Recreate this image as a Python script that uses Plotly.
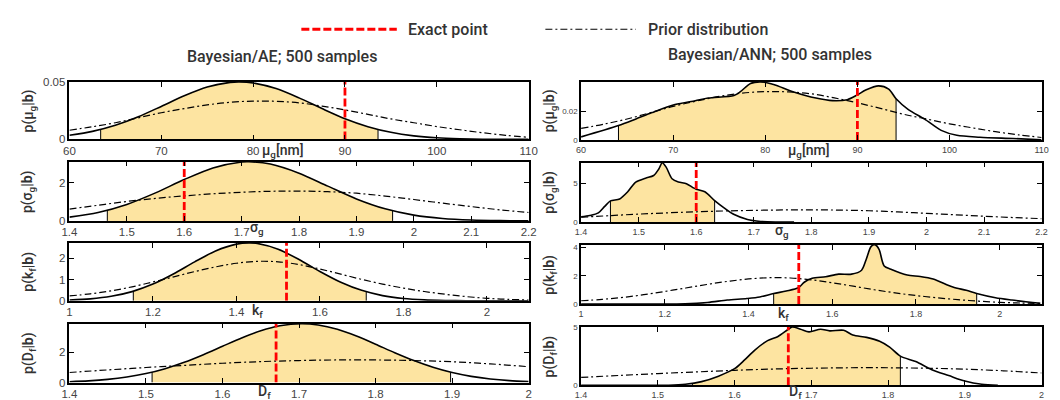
import numpy as np
import plotly.graph_objects as go

W, H = 1060, 400

# ---------------- data ----------------
# mu_g
ae_mu_x = [60, 62.5, 65, 67.5, 70, 72.5, 75, 77.5, 78.5, 80, 82.5, 85, 87.5, 90, 92.5, 95, 97.5, 100, 102.5, 105, 107.5, 110]
ae_mu_post = [0.0036, 0.0070, 0.0123, 0.0197, 0.0287, 0.0379, 0.0455, 0.0496, 0.0500, 0.0491, 0.0442, 0.0361, 0.0268, 0.0180,
              0.0111, 0.0062, 0.0031, 0.0014, 0.0006, 0.0002, 0.0001, 0.0]
ann_mu_x = [60, 64.06, 65.9, 67.7, 70.2, 72.4, 73.8, 76.6, 77.3, 78.4, 79.5, 80.9, 83.0, 85.5, 87.3, 88.9, 90.0, 90.9, 92.3,
            93.4, 94.2, 95.5, 97.3, 99.1, 100.8, 103.3, 106.9, 110]
ann_mu_post = [0.0022, 0.0100, 0.0144, 0.0189, 0.0244, 0.0271, 0.0289, 0.0307, 0.0333, 0.0389, 0.0400, 0.0382, 0.0333, 0.0289,
               0.0271, 0.0278, 0.0311, 0.0344, 0.0373, 0.0351, 0.0284, 0.0211, 0.0144, 0.0067, 0.0033, 0.0020, 0.0011, 0.0002]
mu_prior_x = [60, 62.5, 65, 67.5, 70, 72.5, 75, 77.5, 80, 82.5, 85, 87.5, 90, 92.5, 95, 97.5, 100, 102.5, 105, 107.5, 110]
mu_prior = [0.0080, 0.0110, 0.0145, 0.0188, 0.0232, 0.0268, 0.0300, 0.0323, 0.0333, 0.0331, 0.0318, 0.0290, 0.0256, 0.0218,
            0.0178, 0.0145, 0.0112, 0.0084, 0.0058, 0.0036, 0.0018]

# sigma_g
ae_sig_x = [1.40, 1.45, 1.50, 1.55, 1.60, 1.65, 1.70, 1.7127, 1.75, 1.80, 1.85, 1.90, 1.95, 2.00, 2.05, 2.10, 2.15, 2.20]
ae_sig_post = [0.196, 0.442, 0.864, 1.469, 2.166, 2.775, 3.086, 3.10, 2.98, 2.50, 1.821, 1.152, 0.633, 0.302, 0.125, 0.045, 0.014, 0.004]
ann_sig_x = [1.400, 1.415, 1.430, 1.441, 1.451, 1.467, 1.481, 1.495, 1.512, 1.526, 1.535, 1.541, 1.548, 1.558, 1.569, 1.583,
             1.595, 1.600, 1.615, 1.632, 1.649, 1.666, 1.689, 1.712, 1.740, 1.770]
ann_sig_post = [0.67, 0.83, 1.17, 2.00, 2.71, 2.96, 3.88, 5.12, 5.62, 5.96, 6.79, 7.60, 7.00, 5.54, 5.12, 4.92,
                4.38, 4.20, 3.88, 2.75, 1.79, 0.96, 0.33, 0.08, 0.01, 0.0]
sig_prior_x = [1.40, 1.45, 1.50, 1.55, 1.60, 1.65, 1.70, 1.75, 1.80, 1.85, 1.90, 1.95, 2.00, 2.05, 2.10, 2.15, 2.20]
sig_prior = [0.62, 0.82, 1.02, 1.18, 1.31, 1.42, 1.50, 1.55, 1.56, 1.53, 1.45, 1.30, 1.12, 0.93, 0.75, 0.58, 0.44]

# k_f
ae_kf_x = [1.00, 1.05, 1.10, 1.15, 1.20, 1.25, 1.30, 1.35, 1.40, 1.43, 1.45, 1.50, 1.55, 1.60, 1.65, 1.70, 1.75, 1.80,
           1.85, 1.90, 1.95, 2.00, 2.05, 2.10]
ae_kf_post = [0.036, 0.092, 0.212, 0.434, 0.789, 1.277, 1.836, 2.350, 2.673, 2.730, 2.704, 2.433, 1.947, 1.386, 0.877, 0.494,
              0.247, 0.110, 0.044, 0.016, 0.005, 0.0015, 0.0, 0.0]
ann_kf_x = [1.000, 1.248, 1.302, 1.349, 1.396, 1.427, 1.460, 1.490, 1.519, 1.533, 1.552, 1.584, 1.615, 1.646, 1.670, 1.681,
            1.693, 1.703, 1.712, 1.724, 1.740, 1.779, 1.810, 1.841, 1.888, 1.920, 1.945, 1.990, 2.029, 2.097]
ann_kf_post = [0.0, 0.02, 0.11, 0.28, 0.39, 0.50, 0.74, 0.92, 1.15, 1.54, 1.82, 1.93, 2.11, 2.11, 2.39, 3.15,
               4.07, 4.18, 3.84, 2.69, 2.46, 2.05, 1.95, 1.77, 1.20, 0.97, 0.74, 0.44, 0.28, 0.05]
kf_prior_x = [1.00, 1.05, 1.10, 1.15, 1.20, 1.25, 1.30, 1.35, 1.40, 1.45, 1.50, 1.55, 1.60, 1.65, 1.70, 1.75, 1.80, 1.85,
              1.90, 1.95, 2.00, 2.05, 2.10]
kf_prior = [0.23, 0.33, 0.47, 0.66, 0.89, 1.13, 1.38, 1.60, 1.77, 1.86, 1.84, 1.71, 1.50, 1.26, 1.01, 0.79, 0.60, 0.44,
            0.31, 0.20, 0.12, 0.07, 0.04]

# D_f
ae_df_x = [1.400, 1.425, 1.450, 1.475, 1.500, 1.525, 1.550, 1.575, 1.600, 1.625, 1.650, 1.675, 1.703, 1.725, 1.750, 1.775,
           1.800, 1.825, 1.850, 1.875, 1.900, 1.925, 1.950, 1.975, 2.000]
ae_df_post = [0.060, 0.116, 0.212, 0.366, 0.597, 0.922, 1.344, 1.850, 2.406, 2.957, 3.432, 3.763, 3.900, 3.815, 3.527, 3.080,
              2.541, 1.980, 1.459, 1.014, 0.667, 0.414, 0.243, 0.134, 0.070]
ann_df_x = [1.400, 1.514, 1.536, 1.557, 1.579, 1.600, 1.613, 1.626, 1.643, 1.656, 1.670, 1.675, 1.686, 1.697, 1.712, 1.724,
            1.742, 1.754, 1.772, 1.789, 1.802, 1.816, 1.836, 1.857, 1.879, 1.900, 1.922, 1.943]
ann_df_post = [0.0, 0.0, 0.08, 0.31, 0.78, 1.42, 2.17, 3.00, 3.83, 4.17, 4.81, 5.00, 4.81, 4.58, 4.81, 4.67,
               4.72, 4.31, 4.11, 3.78, 3.28, 2.50, 2.03, 1.33, 0.83, 0.36, 0.08, 0.0]
df_prior_x = [1.40, 1.45, 1.50, 1.55, 1.60, 1.65, 1.70, 1.75, 1.80, 1.85, 1.90, 1.95, 2.00]
df_prior = [0.67, 0.84, 1.00, 1.14, 1.28, 1.39, 1.46, 1.50, 1.50, 1.46, 1.38, 1.24, 1.05]

# exact points and credible intervals
exact_points = [90, 1.6, 1.52, 1.67]
ae_intervals = [(63.4, 93.6), (1.466, 1.963), (1.153, 1.711), (1.508, 1.898)]
ann_intervals = [(64.06, 94.2), (1.451, 1.632), (1.46, 1.945), (1.545, 1.816)]

x_ranges = [(60, 110), (1.4, 2.2), (1.0, 2.1), (1.4, 2.0)]
x_ticks = [[60, 70, 80, 90, 100, 110],
           [1.4, 1.5, 1.6, 1.7, 1.8, 1.9, 2.0, 2.1, 2.2],
           [1.0, 1.2, 1.4, 1.6, 1.8, 2.0],
           [1.4, 1.5, 1.6, 1.7, 1.8, 1.9, 2.0]]
ae_ymax = [0.05, 3.1, 2.73, 3.9]
ann_ymax = [0.04, 7.6, 4.18, 5.0]
ae_yticks = [[0, 0.05], [0, 2], [0, 1, 2], [0, 2]]
ann_yticks = [[0, 0.02], [0, 5], [0, 2, 4], [0, 5]]

y_labels = ["p(μ<sub>g</sub>|<b>b</b>)", "p(σ<sub>g</sub>|<b>b</b>)", "p(k<sub>f</sub>|<b>b</b>)", "p(D<sub>f</sub>|<b>b</b>)"]
x_labels = ["μ<sub>g</sub>[nm]", "σ<sub>g</sub>", "k<sub>f</sub>", "D<sub>f</sub>"]
titles = ["Bayesian/AE; 500 samples", "Bayesian/ANN; 500 samples"]
legend_names = ["Exact point", "Prior distribution"]

posts = [(ae_mu_x, ae_mu_post), (ae_sig_x, ae_sig_post), (ae_kf_x, ae_kf_post), (ae_df_x, ae_df_post),
         (ann_mu_x, ann_mu_post), (ann_sig_x, ann_sig_post), (ann_kf_x, ann_kf_post), (ann_df_x, ann_df_post)]
priors = [(mu_prior_x, mu_prior), (sig_prior_x, sig_prior), (kf_prior_x, kf_prior), (df_prior_x, df_prior)]

# ---------------- layout geometry (pixels) ----------------
col_x = [(54.3, 521.0), (574.3, 1042.3)]
row_y = [[(70, 129.3), (152.3, 213.3), (236, 295.7), (319.3, 380)],
         [(70, 130), (153.3, 214.5), (238, 299), (322.7, 382.7)]]
xlab_pos = [[(271, 141), (245, 221), (245, 306), (253, 390)],
            [(805, 141), (778, 224), (780, 309), (792, 390)]]
ylab_x = [13, 543]
title_pos = [(270, 44), (766, 42)]

FILL = "#FDE4A1"
TXT = "#333333"
FONT = "Roboto, Liberation Sans, sans-serif"
TICKFONT = "Liberation Sans, Arial, sans-serif"

fig = go.Figure()
layout = dict(width=W, height=H, margin=dict(l=0, r=0, t=0, b=0), plot_bgcolor="white",
              paper_bgcolor="white", showlegend=False)
annotations = []
shapes = []

def px2x(p):
    return p / W

def px2y(p):
    return 1 - p / H

for i in range(8):
    col, row = divmod(i, 4)
    sfx = "" if i == 0 else str(i + 1)
    xa, ya = "x" + sfx, "y" + sfx
    ymax = (ae_ymax if col == 0 else ann_ymax)[row]
    yt = (ae_yticks if col == 0 else ann_yticks)[row]
    lo, hi = (ae_intervals if col == 0 else ann_intervals)[row]
    px_, py_ = posts[i]
    prx, pry = priors[row]
    px_a = np.array(px_, float)
    py_a = np.array(py_, float)

    # credible interval fill
    inside = (px_a > lo) & (px_a < hi)
    ylo, yhi = float(np.interp(lo, px_a, py_a)), float(np.interp(hi, px_a, py_a))
    fx = [lo] + list(px_a[inside]) + [hi]
    fy = [ylo] + list(py_a[inside]) + [yhi]
    fig.add_trace(go.Scatter(x=fx, y=fy, mode="lines", fill="tozeroy", fillcolor=FILL,
                             line=dict(width=0, shape="spline", smoothing=0.8), xaxis=xa, yaxis=ya, hoverinfo="skip"))
    fig.add_trace(go.Scatter(x=[lo, lo, None, hi, hi], y=[0, ylo, None, 0, yhi], mode="lines",
                             line=dict(color="black", width=1), xaxis=xa, yaxis=ya, hoverinfo="skip"))
    # prior
    fig.add_trace(go.Scatter(x=prx, y=pry, mode="lines",
                             line=dict(color="black", width=1.2, dash="7px,3px,2px,3px", shape="spline"),
                             xaxis=xa, yaxis=ya))
    # posterior
    fig.add_trace(go.Scatter(x=px_, y=py_, mode="lines",
                             line=dict(color="black", width=1.6, shape="spline", smoothing=0.8),
                             xaxis=xa, yaxis=ya))
    # exact point
    ex = exact_points[row]
    fig.add_trace(go.Scatter(x=[ex, ex], y=[0, ymax], mode="lines",
                             line=dict(color="#FF0000", width=2.8, dash="8px,3px"),
                             xaxis=xa, yaxis=ya))

    x0, x1 = col_x[col]
    yt0, yb0 = row_y[col][row]
    tfs_x = 11.5 if col == 0 else 9
    tfs_y = 11.5 if col == 0 else 8
    layout["xaxis" + sfx] = dict(domain=[px2x(x0), px2x(x1)], range=list(x_ranges[row]), anchor=ya,
                                 tickvals=x_ticks[row], ticktext=[f"{v:g}" for v in x_ticks[row]],
                                 ticks="inside", ticklen=5, tickwidth=1, tickcolor="black",
                                 showline=True, linecolor="black", linewidth=1.5, mirror="allticks",
                                 showgrid=False, zeroline=False,
                                 tickfont=dict(size=tfs_x, color="#444444", family=TICKFONT))
    layout["yaxis" + sfx] = dict(domain=[px2y(yb0), px2y(yt0)], range=[0, ymax], anchor=xa,
                                 tickvals=yt, ticktext=[f"{v:g}" for v in yt],
                                 ticks="inside", ticklen=5, tickwidth=1, tickcolor="black",
                                 showline=True, linecolor="black", linewidth=1.5, mirror="allticks",
                                 showgrid=False, zeroline=False,
                                 tickfont=dict(size=tfs_y, color="#444444", family=TICKFONT))
    # x label
    lx, ly = xlab_pos[col][row]
    annotations.append(dict(x=px2x(lx), y=px2y(ly), xref="paper", yref="paper", text=x_labels[row],
                            showarrow=False, xanchor="center", yanchor="middle",
                            font=dict(size=14, color=TXT, family=FONT, weight=500)))
    # y label
    annotations.append(dict(x=px2x(ylab_x[col]), y=px2y((yt0 + yb0) / 2), xref="paper", yref="paper",
                            text=y_labels[row], textangle=-90, showarrow=False,
                            xanchor="center", yanchor="middle",
                            font=dict(size=14, color=TXT, family=FONT, weight=500)))

for k in range(2):
    tx, ty = title_pos[k]
    annotations.append(dict(x=px2x(tx), y=px2y(ty), xref="paper", yref="paper", text=titles[k],
                            showarrow=False, xanchor="center", yanchor="middle",
                            font=dict(size=16, color=TXT, family=FONT, weight=500)))

# legend (drawn manually)
leg_y = px2y(15.7)
shapes.append(dict(type="line", xref="paper", yref="paper", x0=px2x(290), x1=px2x(387), y0=leg_y, y1=leg_y,
                   line=dict(color="#FF0000", width=2.8, dash="8px,3px")))
shapes.append(dict(type="line", xref="paper", yref="paper", x0=px2x(538), x1=px2x(630), y0=leg_y, y1=leg_y,
                   line=dict(color="black", width=1.2, dash="7px,3px,2px,3px")))
annotations.append(dict(x=px2x(396), y=leg_y, xref="paper", yref="paper", text=legend_names[0], showarrow=False,
                        xanchor="left", yanchor="middle", font=dict(size=16, color=TXT, family=FONT, weight=500)))
annotations.append(dict(x=px2x(640), y=leg_y, xref="paper", yref="paper", text=legend_names[1], showarrow=False,
                        xanchor="left", yanchor="middle", font=dict(size=16, color=TXT, family=FONT, weight=500)))

layout["annotations"] = annotations
layout["shapes"] = shapes
fig.update_layout(**layout)
fig.write_html("out.html")
